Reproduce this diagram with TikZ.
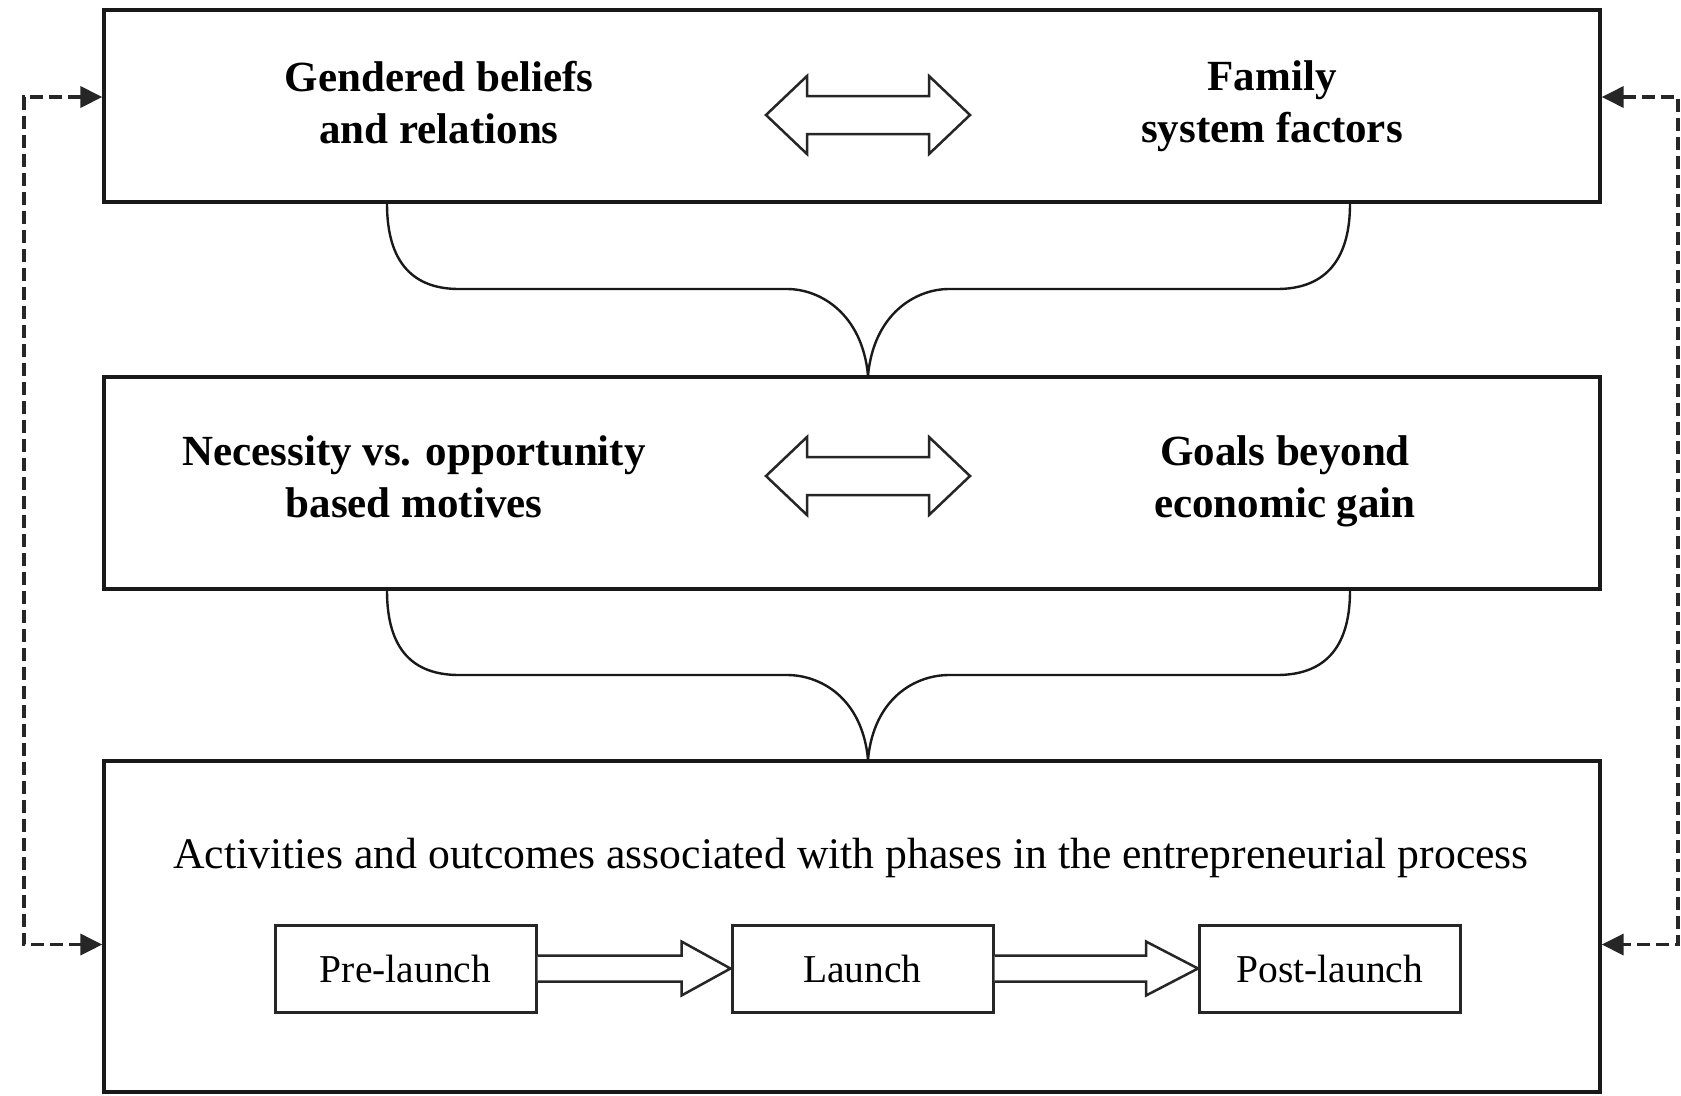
\documentclass[tikz,border=0pt]{standalone}
\usepackage{fontspec}
\setmainfont{Liberation Serif}
\usetikzlibrary{arrows.meta,calc}
\begin{document}
\begin{tikzpicture}[x=1pt,y=-1pt,
  panel/.style={draw=black!90,line width=3.3pt,inner sep=0pt},
  phase/.style={draw=black!85,line width=3pt,minimum width=261pt,minimum height=87pt,
    inner sep=0pt,font=\fontsize{39.5}{47}\selectfont},
  factor/.style={align=center,font=\fontsize{43}{52}\selectfont\bfseries},
  lead/.style={font=\fontsize{43.7}{52}\selectfont},
  brace/.style={draw=black!90,line width=2.4pt},
  hollow/.style={draw=black!85,line width=2.5pt,line join=miter,fill=white},
  feedback/.style={draw=black!85,line width=3.4pt,dash pattern=on 13pt off 6pt,
    {Triangle[length=22pt,width=21pt]}-{Triangle[length=22pt,width=21pt]}},
  dblarrow/.pic={\path[hollow] (-102,0) -- (-61,-39) -- (-61,-19) -- (61,-19) -- (61,-39)
    -- (102,0) -- (61,39) -- (61,19) -- (-61,19) -- (-61,39) -- cycle;}
]
% canvas
\fill[white] (0,0) rectangle (1681,1095);
\useasboundingbox (0,0) rectangle (1681,1095);

% the three stacked panels
\node[panel,minimum width=1496pt,minimum height=192pt] (top) at (852,106) {};
\node[panel,minimum width=1496pt,minimum height=212pt] (mid) at (852,483) {};
\node[panel,minimum width=1496pt,minimum height=331pt] (bot) at (852,926.5) {};

% top panel
\node[factor] (gender) at (439,103) {Gendered beliefs\\and relations};
\node[factor] (family) at (1272,106) {Family\\system factors};
\pic at (868,115) {dblarrow};

% middle panel
\node[factor] (motive) at (414,477) {Necessity vs. opportunity\\based motives};
\node[factor] (goals) at (1285,481) {Goals beyond\\economic gain};
\pic at (868,476) {dblarrow};

% bottom panel
\node[lead] (act) at (851,858) {Activities and outcomes associated with phases in the entrepreneurial process};
\node[phase] (pre) at (405.5,968.5) {Pre-launch};
\node[phase] (launch) at (862.5,968.5) {Launch};
\node[phase] (post) at (1330,968.5) {Post-launch};

\draw[hollow] ($(pre.east)+(0,-13)$) -- ($(launch.west)+(-49,-13)$) -- ($(launch.west)+(-49,-27)$)
  -- (launch.west) -- ($(launch.west)+(-49,27)$) -- ($(launch.west)+(-49,13)$) -- ($(pre.east)+(0,13)$);
\draw[hollow] ($(launch.east)+(0,-13)$) -- ($(post.west)+(-52,-13)$) -- ($(post.west)+(-52,-27)$)
  -- (post.west) -- ($(post.west)+(-52,27)$) -- ($(post.west)+(-52,13)$) -- ($(launch.east)+(0,13)$);

% braces joining the panels
\coordinate (xL) at (387,0);
\coordinate (xR) at (1350,0);
\coordinate (xC) at (868,0);
\draw[brace] (top.south -| xL) .. controls +(0,60) and +(-45,0) .. (459,289) -- (787,289)
  .. controls +(33,0) and +(-6,-62) .. (mid.north -| xC);
\draw[brace] (top.south -| xR) .. controls +(0,60) and +(45,0) .. (1277,289) -- (949,289)
  .. controls +(-33,0) and +(6,-62) .. (mid.north -| xC);
\draw[brace] (mid.south -| xL) .. controls +(0,60) and +(-45,0) .. (459,675) -- (787,675)
  .. controls +(33,0) and +(-6,-62) .. (bot.north -| xC);
\draw[brace] (mid.south -| xR) .. controls +(0,60) and +(45,0) .. (1277,675) -- (949,675)
  .. controls +(-33,0) and +(6,-62) .. (bot.north -| xC);

% feedback loops
\coordinate (fbL) at (24,500);
\coordinate (fbR) at (1678,500);
\draw[feedback] ([yshift=9pt]top.west) -| (fbL) |- ([yshift=-18pt]bot.west);
\draw[feedback] ([yshift=9pt]top.east) -| (fbR) |- ([yshift=-18pt]bot.east);
\end{tikzpicture}
\end{document}
